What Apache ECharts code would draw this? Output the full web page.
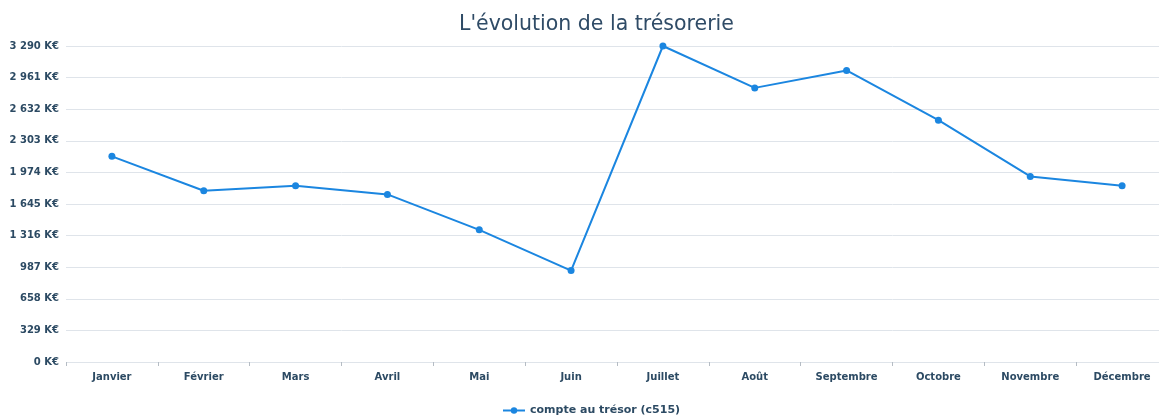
<!DOCTYPE html>
<html>
<head>
<meta charset="utf-8">
<script src="https://cdn.jsdelivr.net/npm/echarts@6/dist/echarts.min.js"></script>
<style>
  html, body { margin: 0; padding: 0; background: #fff; overflow: hidden; }
  #tresorerieChart { width: 1172px; height: 417px; }
</style>
</head>
<body>
<div id="tresorerieChart"></div>
<script>
// mois
var mois = ['Janvier', 'Février', 'Mars', 'Avril', 'Mai', 'Juin', 'Juillet', 'Août', 'Septembre', 'Octobre', 'Novembre', 'Décembre']
// solde du compte au trésor, en K€
var tresor = [2141, 1783, 1835, 1745, 1376, 952, 3290, 2854, 3035, 2518, 1932, 1835]
var maxAxe = 3290
var pasAxe = 329

// 3290 -> "3 290 K€"
function formatKE(v) {
  return String(Math.round(v)).replace(/\B(?=(\d{3})+(?!\d))/g, ' ') + ' K€'
}

var option = {
  animation: false,
  title: {
    text: "L'évolution de la trésorerie",
    left: 454,
    top: 9,
    textStyle: {
      fontFamily: 'DejaVu Sans',
      fontWeight: 'normal',
      fontSize: 20.5,
      color: '#2f4b66'
    }
  },
  legend: {
    data: ['compte au trésor (c515)'],
    left: 497,
    top: 400,
    itemWidth: 22,
    itemHeight: 8,
    textStyle: {
      fontFamily: 'DejaVu Sans',
      fontWeight: 'bold',
      fontSize: 11,
      color: '#2c4a63'
    }
  },
  grid: {
    left: 66,
    width: 1102,
    top: 46,
    bottom: 55,
    containLabel: false
  },
  xAxis: {
    type: 'category',
    data: mois,
    boundaryGap: true,
    axisLine: { show: false },
    axisTick: {
      show: true,
      length: 4,
      lineStyle: { color: '#b5bcc4' }
    },
    axisLabel: {
      margin: 10,
      fontFamily: 'DejaVu Sans',
      fontWeight: 'bold',
      fontSize: 10,
      color: '#2c4a63'
    }
  },
  yAxis: {
    type: 'value',
    min: 0,
    max: maxAxe,
    interval: pasAxe,
    axisLine: { show: false },
    axisTick: { show: false },
    axisLabel: {
      margin: 7,
      formatter: formatKE,
      fontFamily: 'DejaVu Sans',
      fontWeight: 'bold',
      fontSize: 10,
      color: '#2c4a63'
    },
    splitLine: { lineStyle: { color: '#dfe4ea', width: 1 } }
  },
  series: [{
    name: 'compte au trésor (c515)',
    type: 'line',
    data: tresor,
    symbol: 'circle',
    symbolSize: 7,
    lineStyle: { color: '#1b86e0', width: 2 },
    itemStyle: { color: '#1b86e0' }
  }]
}

echarts.init(document.getElementById('tresorerieChart')).setOption(option)
</script>
</body>
</html>
